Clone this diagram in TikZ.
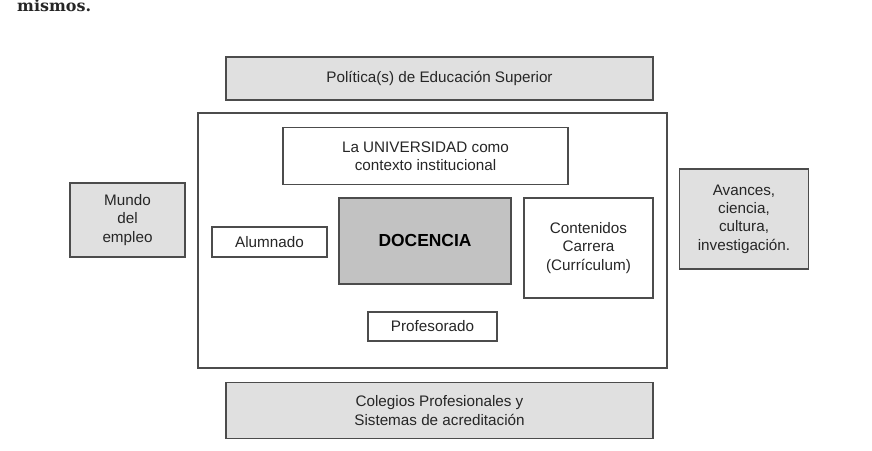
\documentclass[tikz,border=0pt]{standalone}
\usepackage{fontspec}
\setmainfont{Liberation Sans}
\newfontfamily\slabfont{DejaVu Serif}

\tikzset{
  box/.style={draw=black!70, line width=1.1bp, text=black!85, align=center,
    inner sep=0pt, font=\fontsize{15.3}{18.5}\selectfont},
  greybox/.style={box, fill=black!12},
  darkbox/.style={box, fill=black!24, font=\bfseries\fontsize{17.5}{20}\selectfont, text=black},
  whitebox/.style={box, fill=white},
}

\begin{document}
\begin{tikzpicture}[x=1bp, y=-1bp]
  \path[fill=white, use as bounding box] (0,0) rectangle (872,451);

  % Text at the top
  \node[anchor=base west, inner sep=0pt, text=black!85,
    font=\slabfont\bfseries\fontsize{16}{19}\selectfont] (mismos) at (17,12) {mismos.};

  % Frame
  \node[whitebox, minimum width=469bp, minimum height=255bp] (frame) at (432.5,240.5) {};

  % Nodes
  \node[greybox, minimum width=427bp, minimum height=43bp] (politica) at (439.5,78.5)
    {Política(s) de Educación Superior};
  \node[whitebox, minimum width=285bp, minimum height=57bp] (universidad) at (425.5,156)
    {La UNIVERSIDAD como\\contexto institucional};
  \node[darkbox, minimum width=172bp, minimum height=86bp] (docencia) at (425,241) {DOCENCIA};
  \node[whitebox, minimum width=129bp, minimum height=100bp] (contenidos) at (588.5,248)
    {Contenidos\\Carrera\\(Currículum)};
  \node[whitebox, minimum width=115bp, minimum height=30bp] (alumnado) at (269.5,242) {Alumnado};
  \node[whitebox, minimum width=129bp, minimum height=29bp] (profesorado) at (432.5,326.5) {Profesorado};
  \node[greybox, minimum width=427bp, minimum height=56bp] (colegios) at (439.5,410.5)
    {Colegios Profesionales y\\Sistemas de acreditación};
  \node[greybox, minimum width=115bp, minimum height=74bp] (mundo) at (127.5,220)
    {Mundo\\del\\empleo};
  \node[greybox, minimum width=129bp, minimum height=100bp] (avances) at (744,219)
    {Avances,\\ciencia,\\cultura,\\investigación.};
\end{tikzpicture}
\end{document}
